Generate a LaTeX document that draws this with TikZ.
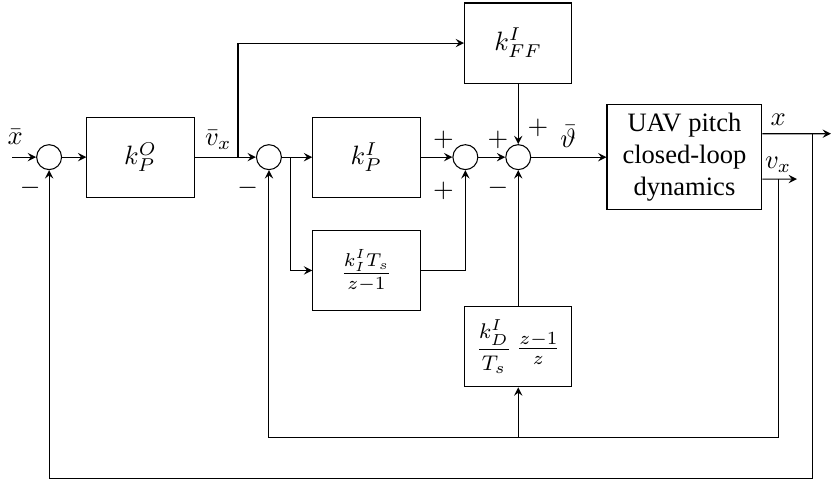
\documentclass[tikz,border=0pt]{standalone}
\usepackage{fontspec}
\setmainfont{Liberation Serif}
\usetikzlibrary{arrows,positioning,calc}

\begin{document}
\begin{tikzpicture}[>=stealth,
    block/.style={draw, minimum width=1.42cm, minimum height=1.06cm},
    sumnode/.style={draw, circle, minimum size=0.33cm, inner sep=0pt},
    sign/.style={inner sep=0pt}]
    \useasboundingbox (0,0) rectangle (11.0,-6.37);

    % --- Outer loop ---
    \coordinate (in) at (0.16,-2.08);
    \node[sumnode] (s1) at (0.65,-2.08) {};
    \node[block] (kPO) at (1.86,-2.08) {$k_P^O$};
    \coordinate (br1) at (3.15,-2.08);

    % --- Inner loop ---
    \node[sumnode] (s2) at (3.56,-2.08) {};
    \coordinate (br2) at (3.85,-2.08);
    \node[block] (kPI) at (4.85,-2.08) {$k_P^I$};
    \node[block] (kI) at (4.85,-3.58) {$\frac{k_I^I T_s}{z-1}$};
    \node[sumnode] (s3) at (6.16,-2.08) {};
    \node[sumnode] (s4) at (6.86,-2.08) {};
    \node[block] (kFF) at (6.86,-0.57) {$k_{FF}^I$};
    \node[block] (kD) at (6.86,-4.59) {{\footnotesize$\displaystyle\frac{k_D^I}{T_s}$}\,$\frac{z-1}{z}$};

    % --- Plant ---
    \node[block, minimum width=2.05cm, minimum height=1.38cm, align=center] (uav) at (9.06,-2.08) {UAV pitch\\closed-loop\\dynamics};
    \coordinate (xo) at ($(uav.east)+(0,0.31)$);
    \coordinate (xend) at (11.0,-1.77);
    \coordinate (xbr) at (10.76,-1.77);
    \coordinate (vo) at ($(uav.east)+(0,-0.29)$);
    \coordinate (vend) at (10.55,-2.37);
    \coordinate (vbr) at (10.31,-2.37);
    \coordinate (inner) at (10.31,-5.79);
    \coordinate (outer) at (10.76,-6.33);

    % Forward path
    \draw[->] (in) -- (s1);
    \draw[->] (s1) -- (kPO);
    \draw[->] (kPO) -- (s2);
    \draw[->] (br1) |- (kFF);
    \draw[->] (s2) -- (kPI);
    \draw[->] (br2) |- (kI);
    \draw[->] (kPI) -- (s3);
    \draw[->] (kI) -| (s3);
    \draw[->] (s3) -- (s4);
    \draw[->] (kFF) -- (s4);
    \draw[->] (kD) -- (s4);
    \draw[->] (s4) -- (uav);
    \draw[->] (xo) -- (xend);
    \draw[->] (vo) -- (vend);

    % Feedback
    \draw[->] (vbr) -- (inner) -| (s2);
    \draw[->] (kD |- inner) -- (kD);
    \draw[->] (xbr) -- (outer) -| (s1);

    % Labels and signs
    \node at (0.2,-1.81) {$\bar{x}$};
    \node[sign] at (0.40,-2.49) {$-$};
    \node at (2.89,-1.85) {$\bar{v}_x$};
    \node[sign] at (3.28,-2.49) {$-$};
    \node[sign] at (5.87,-1.85) {$+$};
    \node[sign] at (5.87,-2.52) {$+$};
    \node[sign] at (6.59,-1.85) {$+$};
    \node[sign] at (6.59,-2.49) {$-$};
    \node[sign] at (7.12,-1.69) {$+$};
    \node at (7.52,-1.81) {$\bar{\vartheta}$};
    \node at (10.30,-1.59) {$x$};
    \node at (10.30,-2.18) {$v_x$};
\end{tikzpicture}
\end{document}
